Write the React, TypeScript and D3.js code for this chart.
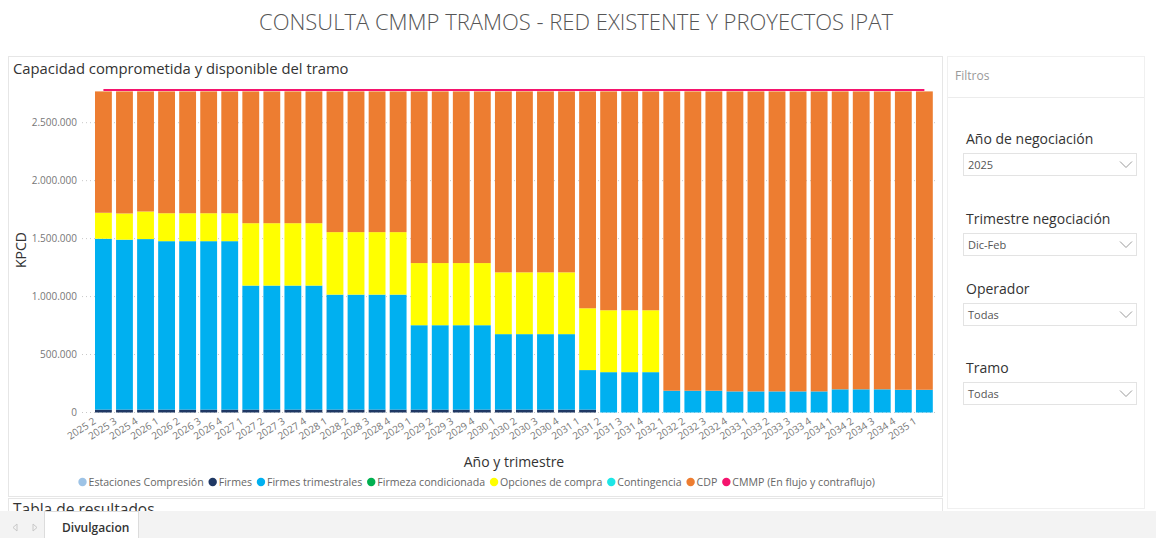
import React, { useEffect, useRef } from "react";
import * as d3 from "d3";

const categories = [
  "2025 2", "2025 3", "2025 4",
  "2026 1", "2026 2", "2026 3", "2026 4",
  "2027 1", "2027 2", "2027 3", "2027 4",
  "2028 1", "2028 2", "2028 3", "2028 4",
  "2029 1", "2029 2", "2029 3", "2029 4",
  "2030 1", "2030 2", "2030 3", "2030 4",
  "2031 1", "2031 2", "2031 3", "2031 4",
  "2032 1", "2032 2", "2032 3", "2032 4",
  "2033 1", "2033 2", "2033 3", "2033 4",
  "2034 1", "2034 2", "2034 3", "2034 4",
  "2035 1",
];

const estacionesCompresion = [
  0, 0, 0, 0, 0, 0, 0, 0, 0, 0, 0, 0, 0, 0, 0, 0, 0, 0, 0, 0,
  0, 0, 0, 0, 0, 0, 0, 0, 0, 0, 0, 0, 0, 0, 0, 0, 0, 0, 0, 0,
];
const firmes = [
  25000, 25000, 25000, 25000, 25000, 25000, 25000, 25000, 25000, 25000,
  25000, 25000, 25000, 25000, 25000, 25000, 25000, 25000, 25000, 25000,
  25000, 25000, 25000, 25000, 0, 0, 0, 0, 0, 0,
  0, 0, 0, 0, 0, 0, 0, 0, 0, 0,
];
const firmesTrimestrales = [
  1474000, 1466000, 1471000, 1453000, 1453000, 1453000, 1453000,
  1070000, 1070000, 1070000, 1070000,
  992000, 992000, 992000, 992000,
  728000, 728000, 728000, 728000,
  651000, 651000, 651000, 651000,
  341000, 348000, 348000, 348000,
  188000, 188000, 188000, 182000,
  182000, 182000, 182000, 182000,
  200000, 200000, 200000, 196000,
  196000,
];
const firmezaCondicionada = [
  0, 0, 0, 0, 0, 0, 0, 0, 0, 0, 0, 0, 0, 0, 0, 0, 0, 0, 0, 0,
  0, 0, 0, 0, 0, 0, 0, 0, 0, 0, 0, 0, 0, 0, 0, 0, 0, 0, 0, 0,
];
const opcionesCompra = [
  224000, 226000, 238000, 241000, 241000, 241000, 241000,
  538000, 538000, 538000, 538000,
  539000, 539000, 539000, 539000,
  536000, 536000, 536000, 536000,
  533000, 533000, 533000, 533000,
  533000, 534000, 534000, 534000,
  0, 0, 0, 0, 0, 0, 0, 0, 0, 0, 0, 0, 0,
];
const contingencia = [
  0, 0, 0, 0, 0, 0, 0, 0, 0, 0, 0, 0, 0, 0, 0, 0, 0, 0, 0, 0,
  0, 0, 0, 0, 0, 0, 0, 0, 0, 0, 0, 0, 0, 0, 0, 0, 0, 0, 0, 0,
];
const cdp = [
  1047000, 1053000, 1036000, 1051000, 1051000, 1051000, 1051000,
  1137000, 1137000, 1137000, 1137000,
  1214000, 1214000, 1214000, 1214000,
  1481000, 1481000, 1481000, 1481000,
  1561000, 1561000, 1561000, 1561000,
  1871000, 1888000, 1888000, 1888000,
  2582000, 2582000, 2582000, 2588000,
  2588000, 2588000, 2588000, 2588000,
  2570000, 2570000, 2570000, 2574000,
  2574000,
];
const cmmp = [
  2782000, 2782000, 2782000, 2782000, 2782000, 2782000, 2782000, 2782000, 2782000, 2782000,
  2782000, 2782000, 2782000, 2782000, 2782000, 2782000, 2782000, 2782000, 2782000, 2782000,
  2782000, 2782000, 2782000, 2782000, 2782000, 2782000, 2782000, 2782000, 2782000, 2782000,
  2782000, 2782000, 2782000, 2782000, 2782000, 2782000, 2782000, 2782000, 2782000, 2782000,
];

const yTicks = [0, 500000, 1000000, 1500000, 2000000, 2500000];

const seriesNames = [
  "Estaciones Compresión",
  "Firmes",
  "Firmes trimestrales",
  "Firmeza condicionada",
  "Opciones de compra",
  "Contingencia",
  "CDP",
];
const seriesColors = ["#9DC3E6", "#1F3864", "#00B0F0", "#00B050", "#FFFF00", "#1EE6E6", "#ED7D31"];
const lineName = "CMMP (En flujo y contraflujo)";
const lineColor = "#F5146E";

const filterTitles = ["Año de negociación", "Trimestre negociación", "Operador", "Tramo"];
const filterValues = ["2025", "Dic-Feb", "Todas", "Todas"];

const FONT = "'Segoe UI', 'Open Sans', sans-serif";

export default function App() {
  const ref = useRef<SVGSVGElement | null>(null);

  useEffect(() => {
    document.body.style.margin = "0";
    const svg = d3.select(ref.current);
    svg.selectAll("*").remove();

    const W = 1156, H = 538;
    svg.append("rect").attr("width", W).attr("height", H).attr("fill", "#ffffff");

    // Page title
    svg.append("text")
      .attr("x", 576).attr("y", 30)
      .attr("text-anchor", "middle")
      .attr("font-family", FONT).attr("font-size", 22).attr("font-weight", 300)
      .attr("fill", "#555555")
      .text("CONSULTA CMMP TRAMOS - RED EXISTENTE Y PROYECTOS IPAT");

    // Chart panel
    svg.append("rect")
      .attr("x", 8.5).attr("y", 56.5).attr("width", 934).attr("height", 440)
      .attr("fill", "#fff").attr("stroke", "#e6e6e6");
    // results panel (cut)
    svg.append("rect")
      .attr("x", 8.5).attr("y", 498.5).attr("width", 934).attr("height", 40)
      .attr("fill", "#fff").attr("stroke", "#e6e6e6");
    svg.append("text")
      .attr("x", 13).attr("y", 515)
      .attr("font-family", FONT).attr("font-size", 15.5).attr("fill", "#333")
      .text("Tabla de resultados");

    // Filters panel
    svg.append("rect")
      .attr("x", 947.5).attr("y", 56.5).attr("width", 197).attr("height", 452)
      .attr("fill", "#fff").attr("stroke", "#f0f0f0");
    svg.append("text")
      .attr("x", 955).attr("y", 80)
      .attr("font-family", FONT).attr("font-size", 12).attr("fill", "#999")
      .text("Filtros");
    svg.append("line")
      .attr("x1", 948).attr("x2", 1144).attr("y1", 97.5).attr("y2", 97.5)
      .attr("stroke", "#ececec");

    const headerY = [144, 224, 294, 373];
    const boxY = [153.5, 233.5, 303.5, 382.5];
    filterTitles.forEach((t, i) => {
      svg.append("text")
        .attr("x", 966).attr("y", headerY[i])
        .attr("font-family", FONT).attr("font-size", 14).attr("fill", "#333")
        .text(t);
      svg.append("rect")
        .attr("x", 963.5).attr("y", boxY[i]).attr("width", 173).attr("height", 22)
        .attr("fill", "#fff").attr("stroke", "#e3e3e3");
      svg.append("text")
        .attr("x", 968).attr("y", boxY[i] + 15)
        .attr("font-family", FONT).attr("font-size", 11).attr("fill", "#555")
        .text(filterValues[i]);
      const cy = boxY[i] + 11;
      svg.append("path")
        .attr("d", `M1120,${cy - 3} L1126,${cy + 3} L1132,${cy - 3}`)
        .attr("fill", "none").attr("stroke", "#9a9a9a").attr("stroke-width", 1);
    });

    // Chart title
    svg.append("text")
      .attr("x", 13).attr("y", 74)
      .attr("font-family", FONT).attr("font-size", 14.8).attr("fill", "#333")
      .text("Capacidad comprometida y disponible del tramo");

    // Scales
    const x = d3.scaleBand<string>()
      .domain(categories)
      .range([92.9, 934.9])
      .paddingInner(0.2)
      .paddingOuter(0.1);
    const y = d3.scaleLinear().domain([0, 2500000]).range([412.5, 122.7]);

    const fmtLocale = d3.formatLocale({ decimal: ",", thousands: ".", grouping: [3], currency: ["$", ""] });
    const fmt = fmtLocale.format(",.0f");

    // Gridlines + y labels
    const g = svg.append("g");
    yTicks.forEach((t) => {
      g.append("line")
        .attr("x1", 82).attr("x2", 937)
        .attr("y1", y(t)).attr("y2", y(t))
        .attr("stroke", "#c8c8c8").attr("stroke-dasharray", "1,3");
      g.append("text")
        .attr("x", 77).attr("y", y(t)).attr("dy", "0.35em")
        .attr("text-anchor", "end")
        .attr("font-family", FONT).attr("font-size", 10).attr("fill", "#777")
        .text(fmt(t));
    });

    // Stack
    const seriesData = [estacionesCompresion, firmes, firmesTrimestrales, firmezaCondicionada, opcionesCompra, contingencia, cdp];
    const rows = categories.map((c, i) => {
      const r: any = { cat: c };
      seriesNames.forEach((n, k) => (r[n] = seriesData[k][i]));
      return r;
    });
    const stacked = d3.stack<any>().keys(seriesNames)(rows);

    const bars = svg.append("g");
    stacked.forEach((s, k) => {
      bars.append("g").attr("fill", seriesColors[k])
        .selectAll("rect")
        .data(s)
        .join("rect")
        .attr("x", (d: any) => x(d.data.cat)!)
        .attr("width", x.bandwidth())
        .attr("y", (d: any) => y(d[1]))
        .attr("height", (d: any) => Math.max(0, y(d[0]) - y(d[1])));
    });

    // CMMP line
    const line = d3.line<number>()
      .x((_, i) => x(categories[i])! + x.bandwidth() / 2)
      .y((v) => y(v));
    svg.append("path")
      .attr("d", line(cmmp)!)
      .attr("fill", "none").attr("stroke", lineColor).attr("stroke-width", 2);

    // X labels
    categories.forEach((c) => {
      const cx = x(c)! + x.bandwidth() / 2;
      svg.append("text")
        .attr("transform", `translate(${cx - 7},${423}) rotate(-33)`)
        .attr("text-anchor", "end")
        .attr("font-family", FONT).attr("font-size", 10).attr("fill", "#777")
        .text(c);
    });

    // Axis titles
    svg.append("text")
      .attr("x", 514).attr("y", 467)
      .attr("text-anchor", "middle")
      .attr("font-family", FONT).attr("font-size", 14).attr("fill", "#333")
      .text("Año y trimestre");
    svg.append("text")
      .attr("transform", `translate(26,250) rotate(-90)`)
      .attr("text-anchor", "middle")
      .attr("font-family", FONT).attr("font-size", 14).attr("fill", "#333")
      .text("KPCD");

    // Legend
    const legendItems = seriesNames.map((n, i) => ({ n, c: seriesColors[i] })).concat([{ n: lineName, c: lineColor }]);
    let lx = 78.5;
    const ly = 482;
    legendItems.forEach((it) => {
      svg.append("circle").attr("cx", lx + 4).attr("cy", ly).attr("r", 4.2).attr("fill", it.c);
      const t = svg.append("text")
        .attr("x", lx + 10).attr("y", ly).attr("dy", "0.35em")
        .attr("font-family", FONT).attr("font-size", 10.6).attr("fill", "#666")
        .text(it.n);
      const w = (t.node() as SVGTextElement).getComputedTextLength();
      lx = lx + 10 + w + 5;
    });

    // Bottom tab bar
    svg.append("rect").attr("x", 0).attr("y", 511).attr("width", W).attr("height", 27).attr("fill", "#f3f3f3");
    svg.append("path").attr("d", "M17,524 L13,527.5 L17,531 Z").attr("fill", "none").attr("stroke", "#c8c8c8");
    svg.append("path").attr("d", "M33,524 L37,527.5 L33,531 Z").attr("fill", "none").attr("stroke", "#c8c8c8");
    svg.append("rect").attr("x", 44.5).attr("y", 511.5).attr("width", 94).attr("height", 27)
      .attr("fill", "#fff").attr("stroke", "#dcdcdc");
    svg.append("text")
      .attr("x", 62).attr("y", 532)
      .attr("font-family", FONT).attr("font-size", 12).attr("font-weight", 600).attr("fill", "#333")
      .text("Divulgacion");
  }, []);

  return <svg ref={ref} width={1156} height={538} style={{ display: "block" }} />;
}
